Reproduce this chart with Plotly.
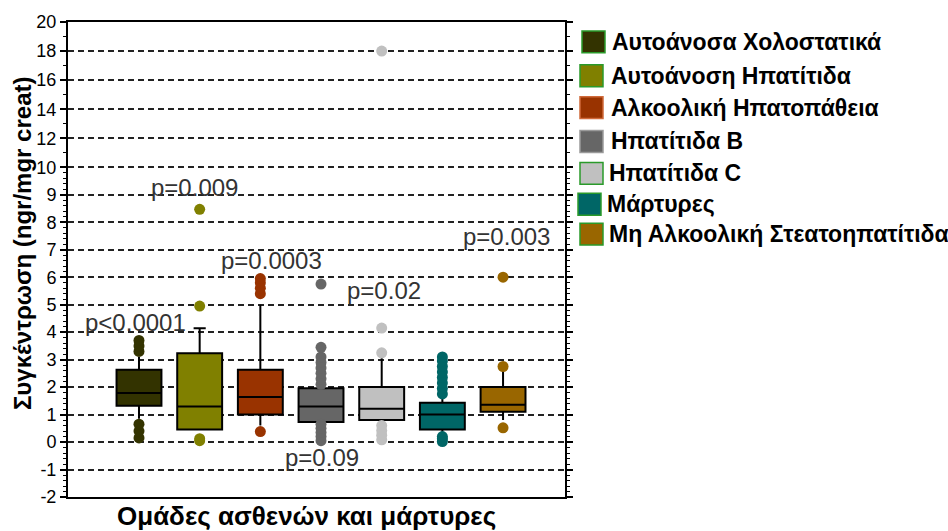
import plotly.graph_objects as go

# ---------------- data ----------------
groups = ["Αυτοάνοσα Χολοστατικά", "Αυτοάνοση Ηπατίτιδα", "Αλκοολική Ηπατοπάθεια",
          "Ηπατίτιδα B", "Ηπατίτιδα C", "Μάρτυρες", "Μη Αλκοολική Στεατοηπατίτιδα"]
q1 = [1.32, 0.46, 1.00, 0.73, 0.80, 0.46, 1.10]
median = [1.79, 1.29, 1.64, 1.29, 1.21, 1.00, 1.36]
q3 = [2.63, 3.23, 2.63, 1.96, 2.00, 1.43, 2.00]
lowerfence = [0.85, 0.46, 0.60, 0.73, 0.80, 0.30, 0.80]
upperfence = [3.10, 4.14, 5.00, 2.00, 3.05, 1.60, 2.60]
outliers = [
    [3.3, 3.5, 3.7, 0.15, 0.4, 0.65],
    [4.95, 8.47, 0.05, 0.12],
    [5.4, 5.6, 5.8, 5.95, 0.38],
    [2.1, 2.3, 2.5, 2.7, 2.9, 3.1, 3.45, 5.75, 0.05, 0.2, 0.35, 0.5, 0.65],
    [3.25, 4.15, 18.0, 0.08, 0.25, 0.42, 0.6],
    [1.75, 1.95, 2.15, 2.35, 2.55, 2.75, 2.95, 3.1, 0.02, 0.12, 0.2],
    [2.75, 6.0, 0.52],
]
p_labels = ["p<0.0001", "p=0.009", "p=0.0003", "p=0.09", "p=0.02", "p=0.003"]
p_xpos = [-0.05, 0.91, 2.18, 3.01, 4.03, 6.06]
p_ypos = [4.36, 9.27, 6.62, -0.55, 5.51, 7.47]
tick_values = [-2, -1, 0, 1, 2, 3, 4, 5, 6, 7, 8, 9, 10, 12, 14, 16, 18, 20]

colors = ["#333300", "#808000", "#993300", "#666666", "#c0c0c0", "#006666", "#996600"]
swatch_borders = ["#2a9a2a", "#2a9a2a", "#d06a3a", "#9a9a9a", "#2a9a2a", "#2a9a2a", "#2a9a2a"]
whisker_caps = [0, 0.27, 0, 0, 0, 0, 0]

# broken y scale: above 10 compressed
R = 0.529


def T(v):
    return v if v <= 10 else 10 + (v - 10) * R


# plot area geometry (pixels)
W, H = 948, 531
L, Rgt, TOP, BOT = 68, 565, 20, 497


def px(x):
    return (x - L) / (Rgt - L)


def py(y):
    return (BOT - y) / (BOT - TOP)


FONT = "Liberation Sans, Arial, sans-serif"

fig = go.Figure()
for i, g in enumerate(groups):
    fig.add_trace(go.Box(
        x=[i], q1=[q1[i]], median=[median[i]], q3=[q3[i]],
        lowerfence=[lowerfence[i]], upperfence=[upperfence[i]],
        name=g, fillcolor=colors[i], line=dict(color="black", width=2),
        width=0.74, whiskerwidth=whisker_caps[i], boxpoints=False,
        showlegend=False,
    ))
    fig.add_trace(go.Scatter(
        x=[i] * len(outliers[i]), y=[T(v) for v in outliers[i]],
        mode="markers", marker=dict(color=colors[i], size=11, line=dict(width=0)),
        showlegend=False, hoverinfo="y",
    ))

annotations = []
for t, x, y in zip(p_labels, p_xpos, p_ypos):
    annotations.append(dict(x=x, y=T(y), xref="x", yref="y", text=t, showarrow=False,
                            font=dict(family=FONT, size=24, color="#333333"),
                            xanchor="center", yanchor="middle"))

# legend (drawn manually)
shapes = []
row_y = [40, 74, 106, 140, 172, 203, 233]
sw_x0 = [582, 580, 580, 580, 580, 578, 580]
txt_x = [610, 609, 609, 609, 607, 605, 607]
for i, g in enumerate(groups):
    yc = row_y[i]
    shapes.append(dict(type="rect", xref="paper", yref="paper",
                       x0=px(sw_x0[i]), x1=px(sw_x0[i] + 23),
                       y0=py(yc + 11), y1=py(yc - 11),
                       fillcolor=colors[i], line=dict(color=swatch_borders[i], width=1.5)))
    annotations.append(dict(x=px(txt_x[i]), y=py(yc), xref="paper", yref="paper",
                            text=g, showarrow=False, xanchor="left", yanchor="middle",
                            font=dict(family=FONT, size=23, color="black", weight="bold")))

# axis titles
annotations.append(dict(x=px(306), y=py(516), xref="paper", yref="paper",
                        text="Ομάδες ασθενών και μάρτυρες", showarrow=False,
                        xanchor="center", yanchor="middle",
                        font=dict(family=FONT, size=26, color="black", weight="bold")))
annotations.append(dict(x=px(22), y=py(242), xref="paper", yref="paper",
                        text="Συγκέντρωση (ngr/mgr creat)", showarrow=False, textangle=-90,
                        xanchor="center", yanchor="middle",
                        font=dict(family=FONT, size=24, color="black", weight="bold")))

minor_vals = [round(-2 + 0.2 * k, 2) for k in range(61)] + [11, 13, 15, 17, 19]

fig.update_layout(
    width=W, height=H,
    margin=dict(l=L, r=W - Rgt, t=TOP, b=H - BOT, pad=0),
    plot_bgcolor="white", paper_bgcolor="white",
    showlegend=False,
    annotations=annotations, shapes=shapes,
    xaxis=dict(range=[-1.170, 7.021], showticklabels=False, ticks="",
               showgrid=False, zeroline=False, showline=True, mirror=True,
               linecolor="black", linewidth=2),
    yaxis=dict(range=[-2, T(20)], tickmode="array",
               tickvals=[T(v) for v in tick_values],
               ticktext=[str(v) for v in tick_values],
               ticks="outside", ticklen=6, tickwidth=1.5, tickcolor="black",
               tickfont=dict(family=FONT, size=18, color="black"),
               showgrid=True, gridcolor="#222222", gridwidth=1.5, griddash="6px,4px",
               zeroline=False, showline=True, mirror="allticks",
               linecolor="black", linewidth=2,
               minor=dict(tickmode="array", tickvals=[T(v) for v in minor_vals],
                          ticks="outside", ticklen=3, tickwidth=1, tickcolor="black",
                          showgrid=False)),
)

fig.write_html("out.html", config={"displayModeBar": False},
               post_script="document.body.style.margin='0px';")
